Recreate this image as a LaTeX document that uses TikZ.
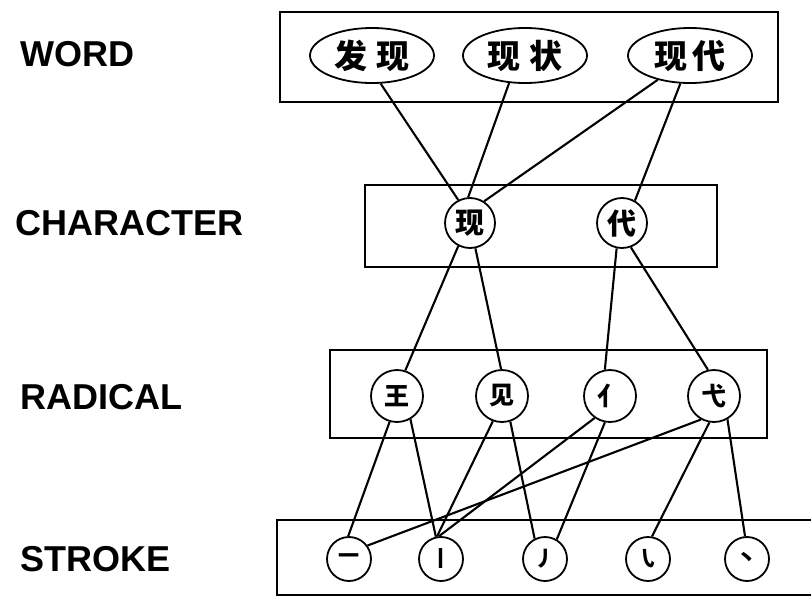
\documentclass[tikz,border=0pt]{standalone}
\usepackage{fontspec}
\setmainfont{Liberation Sans}
\newfontfamily\cjk{Noto Sans CJK SC}
\usetikzlibrary{shapes.geometric}
\begin{document}
\begin{tikzpicture}[x=1pt,y=-1pt,
  lbl/.style={font=\fontsize{36}{40}\selectfont\bfseries, anchor=west, inner sep=0pt},
  layer/.style={draw, line width=2.6pt, inner sep=0pt},
  wordnode/.style={draw, ellipse, line width=1.8pt, minimum width=124pt, minimum height=55pt, inner sep=0pt, font=\fontsize{33}{35}\selectfont\cjk\bfseries},
  charnode/.style={draw, circle, line width=1.8pt, minimum size=50pt, inner sep=0pt, font=\fontsize{29}{31}\selectfont\cjk\bfseries},
  radnode/.style={draw, circle, line width=1.8pt, minimum size=52pt, inner sep=0pt, font=\fontsize{25}{27}\selectfont\cjk\bfseries},
  strnode/.style={draw, circle, line width=1.8pt, minimum size=44pt, inner sep=0pt, font=\fontsize{21}{23}\selectfont\cjk\bfseries},
  link/.style={line width=2.1pt}
]
\useasboundingbox (0,0) rectangle (811,597);
% labels
\node[lbl] (lw) at (20,54) {WORD};
\node[lbl] (lc) at (15,223) {CHARACTER};
\node[lbl] (lr) at (20,397) {RADICAL};
\node[lbl] (ls) at (20,559) {STROKE};
% layer boxes
\node[layer, minimum width=498pt, minimum height=90pt] (wordbox) at (529,57) {};
\node[layer, minimum width=352pt, minimum height=82pt] (charbox) at (541,226) {};
\node[layer, minimum width=437pt, minimum height=88pt] (radbox) at (548.5,394) {};
\coordinate (sbtr) at (815,520);
\coordinate (sbtl) at (277,520);
\coordinate (sbbl) at (277,595);
\coordinate (sbbr) at (815,595);
\draw[line width=2.6pt] (sbtr) -- (sbtl) -- (sbbl) -- (sbbr);
% word nodes
\node[wordnode] (w1) at (372,55.5) {发\hspace{9pt}现};
\node[wordnode] (w2) at (525,55.5) {现\hspace{9pt}状};
\node[wordnode] (w3) at (690,55.5) {现\hspace{5pt}代};
% character nodes
\node[charnode] (c1) at (470,223) {现};
\node[charnode] (c2) at (622,223) {代};
% radical nodes
\node[radnode] (r1) at (397,396) {王};
\node[radnode] (r2) at (502,396) {见};
\node[radnode] (r3) at (610,396) {亻};
\node[radnode] (r4) at (714,396) {弋};
% stroke nodes
\node[strnode] (s1) at (349,559) {一};
\node[strnode] (s2) at (441,559) {丨};
\node[strnode] (s3) at (545,559) {丿};
\node[strnode] (s4) at (648,559) {㇂};
\node[strnode] (s5) at (747,559) {丶};
% links word -> character
\draw[link] (w1.287) -- (c1.117);
\draw[link] (w2.240) -- (c1.94);
\draw[link] (w3.217) -- (c1.57);
\draw[link] (w3.251) -- (c2.60);
% character -> radical
\draw[link] (c1.243) -- (r1.72);
\draw[link] (c1.282) -- (r2.92);
\draw[link] (c2.258) -- (r3.101);
\draw[link] (c2.290) -- (r4.103);
% radical -> stroke
\draw[link] (r1.254) -- (s1.92);
\draw[link] (r1.300) -- (s2.103);
\draw[link] (r2.250) -- (s2.100);
\draw[link] (r2.288) -- (s3.117);
\draw[link] (r3.235) -- (s2.95);
\draw[link] (r3.259) -- (s3.59);
\draw[link] (r4.241) -- (s1.36);
\draw[link] (r4.260) -- (s4.80);
\draw[link] (r4.300) -- (s5.95);
\end{tikzpicture}
\end{document}
